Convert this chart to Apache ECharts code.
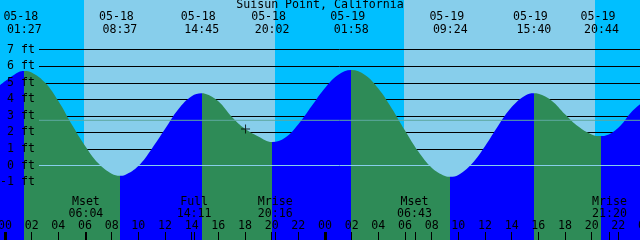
<!DOCTYPE html>
<html><head><meta charset="utf-8">
<script src="https://cdn.jsdelivr.net/npm/echarts@6/dist/echarts.min.js"></script>
<style>html,body{margin:0;padding:0;background:#fff}#c{width:640px;height:240px}</style>
</head><body><div id="c"></div>
<script>
// ---- data (hours since 05-18 00:00) ----
const chartTitle = 'Suisun Point, California';
const tStart = -0.375, tEnd = 47.625;
const tideTimes = [-0.375, 0, 1, 1.45, 2, 3, 4, 5, 6, 7, 8, 8.617, 9, 10, 11, 12, 13, 14, 14.75, 15, 16, 17, 18, 19, 20.033,
  21, 22, 23, 24, 25, 25.967, 27, 28, 29, 30, 31, 32, 33, 33.4, 34, 35, 36, 37, 38, 39, 39.667, 40, 41, 42, 43, 44, 44.733,
  45, 46, 47, 47.625];
const tideHeights = [4.85, 5.09, 5.64, 5.71, 5.62, 5.01, 3.9, 2.5, 1.2, 0.13, -0.5, -0.62, -0.57, -0.03, 1.0, 2.2, 3.4, 4.18, 4.36, 4.34, 3.88, 2.95, 2.22, 1.76, 1.42,
  1.68, 2.5, 3.6, 4.69, 5.49, 5.77, 5.47, 4.65, 3.46, 2.11, 0.84, -0.13, -0.63, -0.68, -0.57, 0.09, 1.17, 2.42, 3.53, 4.22, 4.36, 4.33, 3.92, 3.1, 2.35, 1.88, 1.78,
  1.8, 2.28, 3.25, 3.7];
const extremeTimes = [1.45, 8.617, 14.75, 20.033, 25.967, 33.4, 39.667, 44.733];
const extremeKinds = ['H', 'L', 'H', 'L', 'H', 'L', 'H', 'L'];
const extremeDates = ['05-18', '05-18', '05-18', '05-18', '05-19', '05-19', '05-19', '05-19'];
const extremeClock = ['01:27', '08:37', '14:45', '20:02', '01:58', '09:24', '15:40', '20:44'];
const sunrises = [5.925, 29.925];
const sunsets = [20.25, 44.25];
const moonTimes = [6.067, 14.183, 20.267, 30.717, 45.333];
const moonNames = ['Mset', 'Full', 'Mrise', 'Mset', 'Mrise'];
const moonClock = ['06:04', '14:11', '20:16', '06:43', '21:20'];
const nowTime = [18.04];
const nowHeight = [2.2];
const mslLevel = 2.73;
const datumLevel = 0;

// ---- styles ----
const FONT = '"DejaVu Sans Mono", monospace';
const FS = 11.6;
const DAY = '#87ceeb', NIGHT = '#00bfff';
const RISE = '#0000ff', FALL = '#2e8b57';

// sky bands
const skyBands = [];
let cur = tStart;
for (let i = 0; i < sunrises.length; i++) {
  skyBands.push([cur, sunrises[i], 0]);
  skyBands.push([sunrises[i], sunsets[i], 1]);
  cur = sunsets[i];
}
skyBands.push([cur, tEnd, 0]);

// rise / fall pieces
const pieces = [];
let prev = null;
extremeTimes.forEach((t, i) => {
  const p = {lt: t, color: extremeKinds[i] === 'H' ? RISE : FALL};
  if (prev !== null) p.gte = prev;
  pieces.push(p);
  prev = t;
});
pieces.push({gte: prev, color: extremeKinds[extremeKinds.length - 1] === 'H' ? FALL : RISE});

const chart = echarts.init(document.getElementById('c'), null, {renderer: 'canvas'});
chart.setOption({
  animation: false,
  backgroundColor: '#fff',
  title: {text: chartTitle, left: 'center', top: -1, padding: 0,
    textStyle: {fontFamily: FONT, fontSize: FS, fontWeight: 'normal', color: '#000'}},
  grid: [
    {left: 39, right: 0, top: 49.65, bottom: 8.3, outerBoundsMode: 'none', containLabel: false},
    {left: 0, right: 0, top: 0, bottom: 0, outerBoundsMode: 'none', containLabel: false},
    {left: 5, right: -5, top: 0, bottom: 0, outerBoundsMode: 'none', containLabel: false}
  ],
  xAxis: [
    {gridIndex: 0, type: 'value', min: 0, max: 1, show: false},
    {gridIndex: 1, type: 'value', min: tStart, max: tEnd, show: false},
    {gridIndex: 2, type: 'value', min: 0, max: 48, interval: 2, position: 'bottom', z: 8,
      axisLine: {show: false}, splitLine: {show: false},
      axisTick: {show: true, inside: true, length: 8, lineStyle: {color: '#000', width: 1}},
      axisLabel: {show: true, inside: true, margin: 14, verticalAlign: 'middle', color: '#000',
        fontFamily: FONT, fontSize: FS, showMinLabel: true, showMaxLabel: true, hideOverlap: false,
        formatter: v => String(Math.round(v) % 24).padStart(2, '0')}},
    {gridIndex: 2, type: 'value', min: 0, max: 48, interval: 24, position: 'bottom', z: 8,
      axisLine: {show: false}, splitLine: {show: false}, axisLabel: {show: false},
      axisTick: {show: true, inside: true, length: 8, lineStyle: {color: '#000', width: 3}}}
  ],
  yAxis: [
    {gridIndex: 0, type: 'value', min: -4, max: 7, interval: 1, position: 'left', z: 1,
      axisLine: {show: false}, axisTick: {show: false}, axisLabel: {show: false},
      splitLine: {show: true, lineStyle: {color: '#000', width: 1}}},
    {gridIndex: 0, type: 'value', min: -4, max: 7, interval: 1, position: 'left', z: 9,
      axisLine: {show: false}, axisTick: {show: false}, splitLine: {show: false},
      axisLabel: {show: true, margin: 4, color: '#000', fontFamily: FONT, fontSize: FS,
        formatter: v => (v >= -1 ? v + ' ft' : '')}},
    {gridIndex: 1, type: 'value', min: -4.5, max: 10, show: false},
    {gridIndex: 2, type: 'value', min: 0, max: 1, show: false}
  ],
  visualMap: {type: 'piecewise', show: false, dimension: 0, seriesIndex: 1, pieces: pieces},
  series: [
    {type: 'custom', xAxisIndex: 1, yAxisIndex: 2, z: 0, silent: true, clip: false,
      data: skyBands, encode: {x: [0, 1], y: 2},
      renderItem: (params, api) => {
        const a = api.coord([api.value(0), 0])[0];
        const b = api.coord([api.value(1), 0])[0];
        const cs = params.coordSys;
        return {type: 'rect', shape: {x: a, y: cs.y, width: b - a, height: cs.height},
          style: {fill: api.value(2) ? DAY : NIGHT}};
      }},
    {type: 'line', xAxisIndex: 1, yAxisIndex: 2, z: 2, silent: true,
      data: tideTimes.map((t, i) => [t, tideHeights[i]]),
      smooth: 0.4, showSymbol: false, symbol: 'none',
      lineStyle: {width: 0}, areaStyle: {opacity: 1, origin: 'start'}},
    {type: 'line', xAxisIndex: 0, yAxisIndex: 0, z: 3, silent: true, symbol: 'none',
      data: [[0, mslLevel], [1, mslLevel]], lineStyle: {color: '#5ea8a0', width: 1}},
    {type: 'line', xAxisIndex: 0, yAxisIndex: 0, z: 3, silent: true, symbol: 'none',
      data: [[0, datumLevel], [1, datumLevel]], lineStyle: {color: '#87ceeb', width: 1}},
    {type: 'scatter', xAxisIndex: 1, yAxisIndex: 2, z: 7, silent: true,
      data: nowTime.map((t, i) => [t, nowHeight[i]]),
      symbol: 'path://M4,0H5V9H4ZM0,4H9V5H0Z', symbolSize: 9, itemStyle: {color: '#000'}},
    {type: 'custom', xAxisIndex: 1, yAxisIndex: 2, z: 7, silent: true, clip: false,
      data: extremeTimes.map((t, i) => [t, 0, i]), encode: {x: 0, y: 1},
      renderItem: (params, api) => {
        const x = api.coord([api.value(0), 0])[0];
        const i = api.value(2);
        return {type: 'group', children: [
          {type: 'text', style: {text: extremeDates[i], x: x - 3.5, y: 17.3, fill: '#000',
            font: FS + 'px ' + FONT, align: 'center', verticalAlign: 'middle'}},
          {type: 'text', style: {text: extremeClock[i], x: x, y: 29.7, fill: '#000',
            font: FS + 'px ' + FONT, align: 'center', verticalAlign: 'middle'}}
        ]};
      }},
    {type: 'custom', xAxisIndex: 1, yAxisIndex: 2, z: 7, silent: true, clip: false,
      data: moonTimes.map((t, i) => [t, 0, i]), encode: {x: 0, y: 1},
      renderItem: (params, api) => {
        const x = api.coord([api.value(0), 0])[0];
        const i = api.value(2);
        const xr = Math.round(x) + 0.5;
        return {type: 'group', children: [
          {type: 'line', shape: {x1: xr, y1: 232, x2: xr, y2: 240}, style: {stroke: '#000', lineWidth: 1}},
          {type: 'text', style: {text: moonNames[i], x: x, y: 201.5, fill: '#000',
            font: FS + 'px ' + FONT, align: 'center', verticalAlign: 'middle'}},
          {type: 'text', style: {text: moonClock[i], x: x, y: 213.8, fill: '#000',
            font: FS + 'px ' + FONT, align: 'center', verticalAlign: 'middle'}}
        ]};
      }}
  ]
});
</script></body></html>
